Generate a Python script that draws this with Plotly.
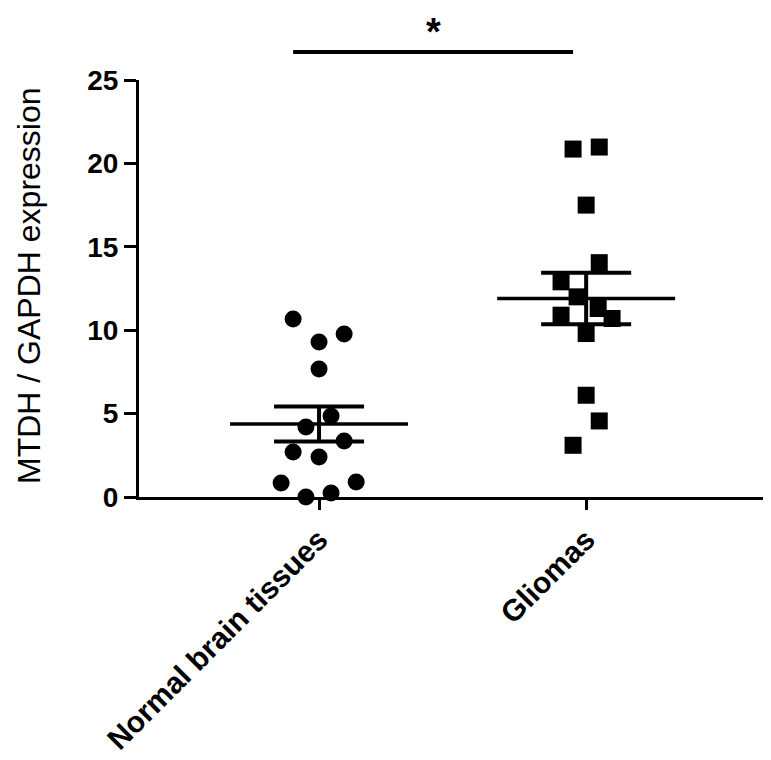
import numpy as np
import plotly.graph_objects as go

categories = ["Normal brain tissues", "Gliomas"]

normal_values = [10.67, 9.77, 9.29, 7.67, 4.86, 4.2, 3.36, 2.7, 2.4, 0.84, 0.9, 0.0, 0.24]
glioma_values = [20.86, 20.98, 17.5, 14.05, 12.9, 12.0, 11.3, 10.9, 10.7, 9.8, 6.1, 4.56, 3.1]

# horizontal scatter of the dots (in category units), as GraphPad lays them out
normal_jitter = [-0.097, 0.094, 0.0, 0.0, 0.045, -0.049, 0.094, -0.097, 0.0, -0.142, 0.139, -0.049, 0.045]
glioma_jitter = [-0.049, 0.049, 0.0, 0.049, -0.094, -0.034, 0.045, -0.094, 0.097, 0.0, 0.0, 0.049, -0.049]

y_ticks = [0, 5, 10, 15, 20, 25]

FONT = "Liberation Sans, Arial, sans-serif"
BLACK = "#000000"

fig = go.Figure()

groups = [
    (0, normal_values, normal_jitter, "circle"),
    (1, glioma_values, glioma_jitter, "square"),
]

for pos, vals, jit, symbol in groups:
    vals = np.asarray(vals)
    mean = vals.mean()
    sem = vals.std(ddof=1) / np.sqrt(len(vals))

    fig.add_trace(go.Scatter(
        x=[pos + j for j in jit],
        y=vals,
        mode="markers",
        marker=dict(symbol=symbol, size=17, color=BLACK, line=dict(width=0)),
        cliponaxis=False,
        showlegend=False,
    ))
    # mean line
    fig.add_trace(go.Scatter(
        x=[pos - 0.333, pos + 0.333],
        y=[mean, mean],
        mode="lines",
        line=dict(color=BLACK, width=3.5),
        showlegend=False,
    ))
    # SEM whiskers
    fig.add_trace(go.Scatter(
        x=[pos],
        y=[mean],
        mode="markers",
        marker=dict(size=0.1, color=BLACK),
        error_y=dict(type="data", array=[sem], visible=True,
                     width=45, thickness=4, color=BLACK),
        showlegend=False,
    ))

# significance bracket and asterisk
fig.add_shape(type="line", xref="x", yref="paper",
              x0=-0.097, x1=0.951, y0=1.067, y1=1.067,
              line=dict(color=BLACK, width=4))
fig.add_annotation(text="*", xref="x", yref="paper", x=0.43, y=1.17,
                   yanchor="top", showarrow=False,
                   font=dict(family=FONT, size=38, color=BLACK, weight="bold"))

# y-axis title as rotated annotation, kept just inside the left edge
fig.add_annotation(text="MTDH / GAPDH expression", xref="paper", yref="paper",
                   x=0.0, xshift=-110, y=0.506, textangle=-90, showarrow=False,
                   xanchor="center", yanchor="middle", borderpad=0,
                   font=dict(family=FONT, size=32, color=BLACK))

# the page puts the plot 8px in from the top-left corner
fig.update_layout(
    width=763,
    height=752,
    paper_bgcolor="white",
    plot_bgcolor="white",
    margin=dict(l=131, r=4, t=72, b=263),
    font=dict(family=FONT, color=BLACK),
)

fig.update_xaxes(
    range=[-0.674, 1.677],
    tickvals=[0, 1],
    ticktext=categories,
    tickangle=-45,
    tickfont=dict(family=FONT, size=30, color=BLACK, weight="bold"),
    showline=True, linecolor=BLACK, linewidth=3,
    ticks="outside", ticklen=10, tickwidth=3, tickcolor=BLACK,
    showgrid=False, zeroline=False,
)
fig.update_yaxes(
    range=[0, 25],
    tickvals=y_ticks,
    tickfont=dict(family=FONT, size=28, color=BLACK, weight="bold"),
    showline=True, linecolor=BLACK, linewidth=3,
    ticks="outside", ticklen=12, tickwidth=3, tickcolor=BLACK,
    showgrid=False, zeroline=False,
)

fig.write_html("out.html")
